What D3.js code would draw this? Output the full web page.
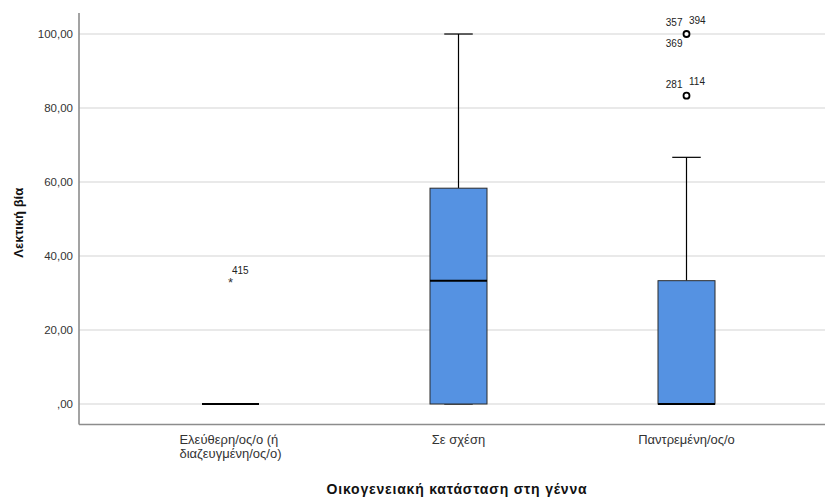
<!DOCTYPE html>
<html>
<head>
<meta charset="utf-8">
<script src="https://cdn.jsdelivr.net/npm/d3@7"></script>
<style>
  html, body { margin: 0; padding: 0; background: #fff; }
  svg { display: block; font-family: Arial, "Liberation Sans", sans-serif; }
</style>
</head>
<body>
<svg id="chart" width="825" height="497"></svg>
<script>
// Boxplot: verbal violence score by marital status at birth
const categories = ["Ελεύθερη/ος/ο (ή διαζευγμένη/ος/ο)", "Σε σχέση", "Παντρεμένη/ος/ο"];
const categoryLines = [["Ελεύθερη/ος/ο (ή", "διαζευγμένη/ος/ο)"], ["Σε σχέση"], ["Παντρεμένη/ος/ο"]];
const whiskerLow  = [0, 0, 0];
const q1          = [0, 0, 0];
const median      = [0, 33.33, 0];
const q3          = [0, 58.33, 33.33];
const whiskerHigh = [0, 100, 66.67];
// outliers: category index, value, case ids, kind (circle = outlier, star = extreme)
const outlierCat   = [0, 2, 2];
const outlierValue = [33.33, 100, 83.33];
const outlierIds   = [["415"], ["357", "394", "369"], ["281", "114"]];
const outlierKind  = ["extreme", "outlier", "outlier"];
const yTicks = [0, 20, 40, 60, 80, 100];
const yTitle = "Λεκτική βία";
const xTitle = "Οικογενειακή κατάσταση στη γέννα";

const svg = d3.select("#chart");
const W = 825, H = 497;
const axisX = 79, axisBottom = 424.5, axisTop = 13;

const y = d3.scaleLinear().domain([-5.54, 105.68]).range([axisBottom, axisTop]);
const x = d3.scaleBand().domain(categories).range([116.5, 800.5]).padding(0);
const boxW = x.bandwidth() * 0.25;
const capW = boxW / 2;
const fmt = v => (v === 0 ? ",00" : d3.format(".2f")(v).replace(".", ","));

// gridlines
svg.append("g").selectAll("line").data(yTicks).join("line")
  .attr("x1", axisX).attr("x2", W)
  .attr("y1", d => y(d)).attr("y2", d => y(d))
  .attr("stroke", "#d4d4d4").attr("stroke-width", 1.2);

// y axis
const yAxis = svg.append("g").attr("transform", `translate(${axisX},0)`)
  .call(d3.axisLeft(y).tickValues(yTicks).tickFormat(fmt).tickSize(0).tickPadding(6));
yAxis.select(".domain").remove();
yAxis.selectAll("text").attr("font-size", 11.5).attr("fill", "#333")
  .attr("font-family", "Arial, 'Liberation Sans', sans-serif");

// axis lines
svg.append("line").attr("x1", axisX).attr("x2", axisX).attr("y1", axisTop).attr("y2", axisBottom)
  .attr("stroke", "#8c8c8c").attr("stroke-width", 1.6);
svg.append("line").attr("x1", axisX).attr("x2", W).attr("y1", axisBottom).attr("y2", axisBottom)
  .attr("stroke", "#8c8c8c").attr("stroke-width", 1.6);

// x tick labels
const xl = svg.append("g");
categories.forEach((c, i) => {
  const cx = x(c) + x.bandwidth() / 2;
  const lines = categoryLines[i];
  const t = xl.append("text").attr("font-size", 13).attr("fill", "#333")
    .attr("text-anchor", lines.length > 1 ? "start" : "middle");
  lines.forEach((ln, j) => {
    t.append("tspan").attr("x", cx).attr("y", 444 + j * 13.5).text(ln);
  });
  if (lines.length > 1) {
    const bb = t.node().getBBox();
    t.selectAll("tspan").attr("x", cx - bb.width / 2);
  }
});

// boxes
const boxes = svg.append("g");
categories.forEach((c, i) => {
  const cx = x(c) + x.bandwidth() / 2;
  // whiskers
  if (whiskerHigh[i] > q3[i]) {
    boxes.append("line").attr("x1", cx).attr("x2", cx).attr("y1", y(q3[i])).attr("y2", y(whiskerHigh[i]))
      .attr("stroke", "#000").attr("stroke-width", 1.2);
    boxes.append("line").attr("x1", cx - capW / 2).attr("x2", cx + capW / 2)
      .attr("y1", y(whiskerHigh[i])).attr("y2", y(whiskerHigh[i]))
      .attr("stroke", "#000").attr("stroke-width", 1.2);
  }
  if (whiskerLow[i] < q1[i]) {
    boxes.append("line").attr("x1", cx).attr("x2", cx).attr("y1", y(q1[i])).attr("y2", y(whiskerLow[i]))
      .attr("stroke", "#000").attr("stroke-width", 1.2);
  }
  boxes.append("line").attr("x1", cx - capW / 2).attr("x2", cx + capW / 2)
    .attr("y1", y(whiskerLow[i])).attr("y2", y(whiskerLow[i]))
    .attr("stroke", "#000").attr("stroke-width", 1.2);
  if (q3[i] > q1[i]) {
    boxes.append("rect").attr("x", cx - boxW / 2).attr("width", boxW)
      .attr("y", y(q3[i])).attr("height", y(q1[i]) - y(q3[i]))
      .attr("fill", "#5592e2").attr("stroke", "#2b2b2b").attr("stroke-width", 1);
  }
  boxes.append("line").attr("x1", cx - boxW / 2).attr("x2", cx + boxW / 2)
    .attr("y1", y(median[i])).attr("y2", y(median[i]))
    .attr("stroke", "#000").attr("stroke-width", 2);
});

// outliers and their case labels
const out = svg.append("g");
outlierCat.forEach((ci, k) => {
  const cx = x(categories[ci]) + x.bandwidth() / 2;
  const cy = y(outlierValue[k]);
  if (outlierKind[k] === "outlier") {
    out.append("circle").attr("cx", cx).attr("cy", cy).attr("r", 3)
      .attr("fill", "#fff").attr("stroke", "#000").attr("stroke-width", 1.8);
  } else {
    out.append("text").attr("x", cx).attr("y", cy + 6).attr("text-anchor", "middle")
      .attr("font-size", 13).attr("fill", "#333").text("*");
  }
  const ids = outlierIds[k];
  const lab = (txt, dx, dy, anchor) => out.append("text").attr("x", cx + dx).attr("y", cy + dy)
    .attr("text-anchor", anchor).attr("font-size", 10).attr("fill", "#222").text(txt);
  if (ids.length === 1) {
    lab(ids[0], 1.5, -7, "start");
  } else {
    lab(ids[0], -4, -8, "end");
    lab(ids[1], 2.5, -10.5, "start");
    if (ids[2]) lab(ids[2], -4, 13, "end");
  }
});

// axis titles
svg.append("text").attr("transform", `translate(23,${(axisTop + axisBottom) / 2 + 4}) rotate(-90)`)
  .attr("text-anchor", "middle").attr("font-size", 13).attr("font-weight", "bold").attr("fill", "#111")
  .text(yTitle);
svg.append("text").attr("x", 457).attr("y", 494).attr("text-anchor", "middle")
  .attr("font-size", 14).attr("font-weight", "bold").attr("letter-spacing", 0.8).attr("fill", "#111")
  .text(xTitle);
</script>
</body>
</html>
